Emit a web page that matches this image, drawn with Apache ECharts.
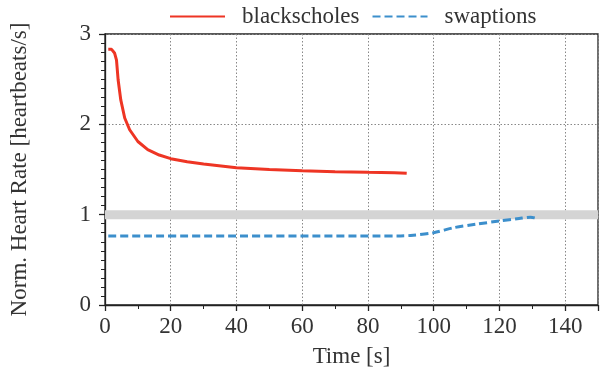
<!DOCTYPE html>
<html>
<head>
<meta charset="utf-8">
<script src="https://cdn.jsdelivr.net/npm/echarts@6/dist/echarts.min.js"></script>
<style>
  html, body { margin: 0; padding: 0; background: #fff; }
  #chart { width: 601px; height: 378px; }
</style>
</head>
<body>
<div id="chart"></div>
<script>
// time [s] and normalised heart rate
const blackscholesTime = [1.0, 1.4, 2.0, 2.9, 3.5, 4.0, 4.8, 6.0, 7.5, 10, 13, 16.5, 20, 25, 30, 40, 50, 60, 70, 80, 88, 91.8];
const blackscholesRate = [2.83, 2.84, 2.83, 2.79, 2.71, 2.49, 2.27, 2.07, 1.94, 1.81, 1.72, 1.66, 1.62, 1.585, 1.56, 1.52, 1.50, 1.487, 1.475, 1.469, 1.465, 1.458];

const swaptionsTime = [1, 90, 93, 100, 106, 113, 120, 126, 129.5, 131];
const swaptionsRate = [0.765, 0.765, 0.77, 0.80, 0.855, 0.895, 0.93, 0.958, 0.972, 0.962];

// target band around 1
const bandLow = 0.95;
const bandHigh = 1.05;

const FONT = '"Liberation Serif", serif';
const TEXT = '#333';
const AXIS = '#222';

const pairs = (xs, ys) => xs.map((x, i) => [x, ys[i]]);

const chart = echarts.init(document.getElementById('chart'));

chart.setOption({
  animation: false,
  textStyle: { fontFamily: FONT },
  grid: {
    left: 103, top: 34, width: 500, height: 271,
    show: true, borderColor: AXIS, borderWidth: 1.3, backgroundColor: 'transparent'
  },
  legend: {
    top: 0, left: 164,
    itemWidth: 55, itemHeight: 14, itemGap: 12,
    itemStyle: { opacity: 0 },
    textStyle: { fontFamily: FONT, fontSize: 23, color: TEXT, padding: [0, 0, 0, 12] },
    data: ['blackscholes', 'swaptions']
  },
  xAxis: {
    type: 'value', min: 0, max: 150, interval: 20,
    name: 'Time [s]', nameLocation: 'middle', nameGap: 40,
    nameTextStyle: { fontFamily: FONT, fontSize: 23, color: TEXT },
    axisLine: { show: true, onZero: false, lineStyle: { color: AXIS, width: 1.3 } },
    axisTick: { show: true, length: 6, lineStyle: { color: AXIS, width: 1.3 } },
    minorTick: { show: true, splitNumber: 2, length: 4, lineStyle: { color: AXIS, width: 1 } },
    axisLabel: { fontFamily: FONT, fontSize: 23, color: TEXT, margin: 10,
      formatter: v => (v <= 140 ? String(v) : '') },
    splitLine: { show: true, lineStyle: { color: '#888', type: [1.5, 2], width: 1 } }
  },
  yAxis: {
    type: 'value', min: 0, max: 3, interval: 1,
    name: 'Norm. Heart Rate [heartbeats/s]', nameLocation: 'middle', nameGap: 74,
    nameTextStyle: { fontFamily: FONT, fontSize: 23, color: TEXT },
    axisLine: { show: true, onZero: false, lineStyle: { color: AXIS, width: 1.3 } },
    axisTick: { show: true, length: 6, lineStyle: { color: AXIS, width: 1.3 } },
    minorTick: { show: true, splitNumber: 10, length: 4, lineStyle: { color: AXIS, width: 1 } },
    axisLabel: { fontFamily: FONT, fontSize: 23, color: TEXT, margin: 14 },
    splitLine: { show: true, lineStyle: { color: '#888', type: [1.5, 2], width: 1 } }
  },
  series: [
    {
      name: 'band', type: 'line', data: [], silent: true, z: 1,
      markArea: {
        silent: true,
        itemStyle: { color: '#d4d4d4', opacity: 1 },
        data: [[{ yAxis: bandLow }, { yAxis: bandHigh }]]
      }
    },
    {
      name: 'blackscholes', type: 'line', symbol: 'none', smooth: false,
      color: '#ee3524',
      lineStyle: { width: 3, color: '#ee3524' },
      data: pairs(blackscholesTime, blackscholesRate),
      z: 3
    },
    {
      name: 'swaptions', type: 'line', symbol: 'none', smooth: 0.3,
      color: '#3c8fcc',
      lineStyle: { width: 3, color: '#3c8fcc', type: [8, 4] },
      data: pairs(swaptionsTime, swaptionsRate),
      z: 3
    }
  ]
});
</script>
</body>
</html>
